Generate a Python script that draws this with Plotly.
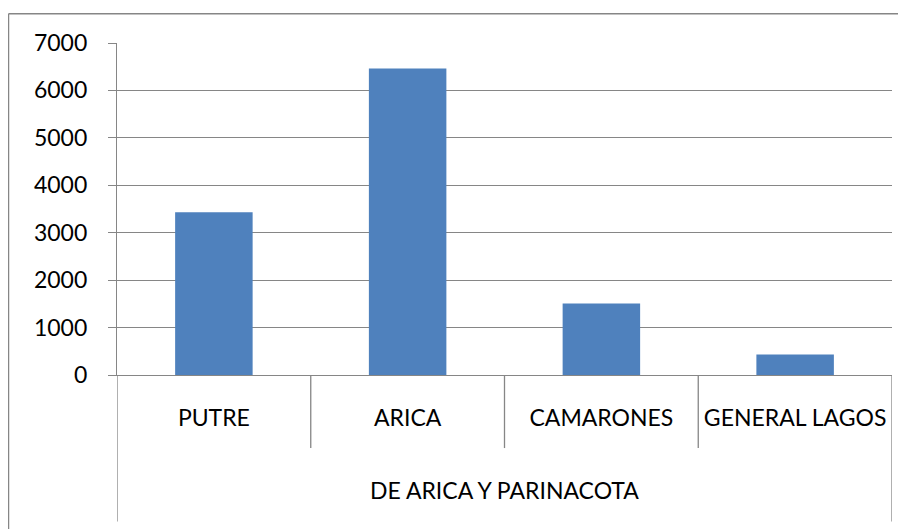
'''
    Bar chart of the communes of the Arica y Parinacota region,
    drawn in the style of a spreadsheet chart with a two level category axis.
'''

import plotly.graph_objects as go

region = "DE ARICA Y PARINACOTA"
communes = ["PUTRE", "ARICA", "CAMARONES", "GENERAL LAGOS"]
values = [3430, 6460, 1510, 430]
y_ticks = [0, 1000, 2000, 3000, 4000, 5000, 6000, 7000]

GRID = "#868686"
BAR = "#4F81BD"
FONT = "Lato"

fig = go.Figure(go.Bar(x=communes, y=values, width=0.4,
                       marker=dict(color=BAR, line=dict(width=0))))

# the page body adds 8px around the figure, so the margins make up for it
fig.update_layout(
    width=906, height=529,
    margin=dict(l=109, r=22, t=35, b=162),
    paper_bgcolor="white", plot_bgcolor="white",
    font=dict(family=FONT, size=23, color="black"),
    showlegend=False, bargap=0.6,
)

fig.update_yaxes(range=[0, 7000], tickvals=y_ticks, automargin=False,
                 showgrid=True, gridcolor=GRID, gridwidth=1.3,
                 showline=True, linecolor=GRID, linewidth=1.3,
                 ticks="outside", ticklen=8, tickcolor=GRID, tickwidth=1.3,
                 ticklabelstandoff=16, zeroline=False)
fig.update_xaxes(range=[-0.5, 3.5], showgrid=False, ticks="", automargin=False,
                 showline=True, linecolor=GRID, linewidth=1.3,
                 ticklabelstandoff=22)

# separators of the category axis
for i in range(len(communes) + 1):
    bottom = -0.4415 if i in (0, len(communes)) else -0.22
    fig.add_shape(type="line", xref="x", yref="paper",
                  x0=i - 0.5, x1=i - 0.5, y0=0, y1=bottom,
                  line=dict(color=GRID, width=1.3))

# group label
fig.add_annotation(text=region, xref="paper", yref="paper",
                   x=0.5, y=-0.346, showarrow=False,
                   xanchor="center", yanchor="middle",
                   font=dict(family=FONT, size=23))

# chart border (only the top and left sides fall inside the picture)
fig.add_shape(type="line", xref="paper", yref="paper",
              x0=-0.14, x1=1.03, y0=1.0878, y1=1.0878,
              line=dict(color=GRID, width=1.5))
fig.add_shape(type="line", xref="paper", yref="paper",
              x0=-0.14, x1=-0.14, y0=1.0878, y1=-0.5,
              line=dict(color=GRID, width=1.5))

fig.write_html("out.html")
